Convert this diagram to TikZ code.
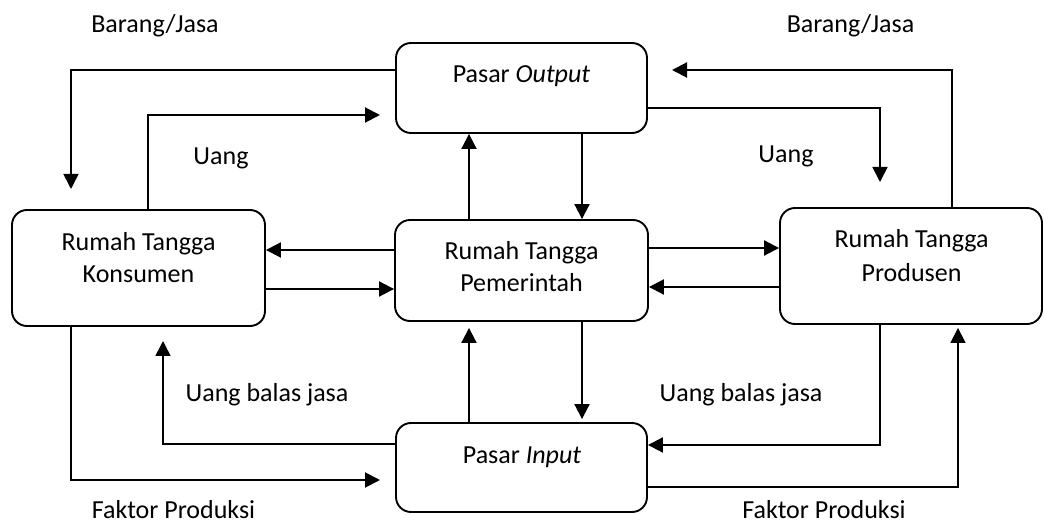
\documentclass[tikz,border=0pt]{standalone}
\usepackage{fontspec}
\setmainfont{Carlito}
\usetikzlibrary{arrows.meta,calc}
\tikzset{
  box/.style={draw, line width=1.9pt, rounded corners=15pt, inner sep=0pt},
  lbl/.style={anchor=base, inner sep=0pt, font=\fontsize{26}{32}\selectfont},
  arr/.style={line width=2pt, -{Triangle[length=15pt,width=15pt]}},
  ln/.style={line width=1.6pt, -{Triangle[length=15pt,width=15pt]}}
}
\begin{document}
\begin{tikzpicture}[x=1pt,y=-1pt]
\useasboundingbox (0,0) rectangle (1044,526);
% boxes
\node[box, minimum width=251pt, minimum height=90pt] (out) at (521.5,88) {};
\node[box, minimum width=253pt, minimum height=116pt] (kon) at (138.5,268) {};
\node[box, minimum width=253pt, minimum height=101pt] (pem) at (521.5,270.5) {};
\node[box, minimum width=262pt, minimum height=116pt] (pro) at (911,266) {};
\node[box, minimum width=251pt, minimum height=89pt] (inp) at (521.5,467.5) {};
% box texts
\node[lbl] (outT) at (521.5,83) {Pasar \textit{Output}};
\node[lbl] (konT1) at (138.5,251) {Rumah Tangga};
\node[lbl] (konT2) at (138.5,283) {Konsumen};
\node[lbl] (pemT1) at (521.5,260) {Rumah Tangga};
\node[lbl] (pemT2) at (521.5,292) {Pemerintah};
\node[lbl] (proT1) at (911.5,248) {Rumah Tangga};
\node[lbl] (proT2) at (911.5,282) {Produsen};
\node[lbl] (inpT) at (522,463) {Pasar \textit{Input}};
% flow labels
\node[lbl] (bjL) at (155,33) {Barang/Jasa};
\node[lbl] (bjR) at (850.5,33) {Barang/Jasa};
\node[lbl] (uL) at (221,165) {Uang};
\node[lbl] (uR) at (786,163) {Uang};
\node[lbl] (ubL) at (267,402) {Uang balas jasa};
\node[lbl] (ubR) at (741,402) {Uang balas jasa};
\node[lbl] (fpL) at (173.5,518) {Faktor Produksi};
\node[lbl] (fpR) at (824,518) {Faktor Produksi};
% free ends
\coordinate (eBJL) at (71,189);
\coordinate (eUL) at (380,115);
\coordinate (eBJR) at (672,70);
\coordinate (eUR) at (880,182);
\coordinate (eUBL) at (163,341);
\coordinate (eFPL) at (380,480);
% connectors
\draw[ln] (out.west |- 0,70) -| (eBJL);
\draw[arr] (kon.north -| 148,0) |- (eUL);
\draw[arr] (pem.north -| 469,0) -- (out.south -| 469,0);
\draw[arr] (out.south -| 582,0) -- (pem.north -| 582,0);
\draw[arr] (pem.west |- 0,250) -- (kon.east |- 0,250);
\draw[arr] (kon.east |- 0,289) -- (pem.west |- 0,289);
\draw[arr] (pem.east |- 0,248) -- (pro.west |- 0,248);
\draw[arr] (pro.west |- 0,287) -- (pem.east |- 0,287);
\draw[arr] (pro.north -| 952,0) |- (eBJR);
\draw[ln] (out.east |- 0,108) -| (eUR);
\draw[arr, shorten >=6pt] (inp.north -| 469,0) -- (pem.south -| 469,0);
\draw[arr, shorten >=3pt] (pem.south -| 582,0) -- (inp.north -| 582,0);
\draw[ln] (inp.west |- 0,444) -| (eUBL);
\draw[arr] (kon.south -| 71,0) |- (eFPL);
\draw[arr] (pro.south -| 880,0) |- (inp.east |- 0,445);
\draw[ln, shorten >=3pt] (inp.east |- 0,487) -| (pro.south -| 958,0);
\end{tikzpicture}
\end{document}
